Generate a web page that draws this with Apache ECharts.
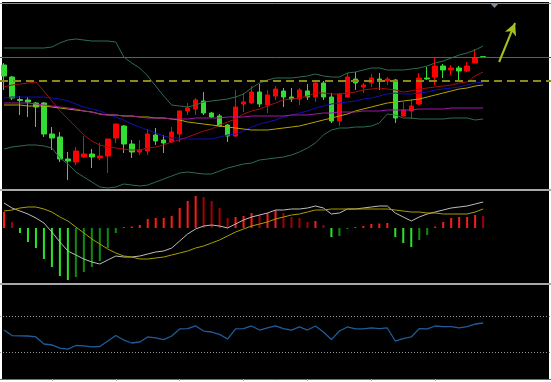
<!DOCTYPE html>
<html><head><meta charset="utf-8">
<script src="https://cdn.jsdelivr.net/npm/echarts@6/dist/echarts.min.js"></script>
<style>html,body{margin:0;padding:0;background:#fff}#c{width:551px;height:382px}</style>
</head><body><div id="c"></div>
<script>
// candles: [open, close, low, high] (price points)
const ohlc = [
[125,114,100,127],[113,92,90,114],[90.5,89.5,75,94],[90,88,73,93],[87,83,63,88],
[87,56,53,88],[56,52,40,63],[53,31,28,58],[31,29,10,38],[28,39,25,43],
[33,36,32,54],[36,33,22,41],[32,34,30,47],[34,51,17,51],[52,66,47,66],
[64,46,37,65],[46,38,32,50],[38,40,35,50],[39,56,35,61],[55,49,45,62],
[50,47,37,55],[48,58,47,63],[56,79,48,80],[79,82,75,87],[81,90,75,92],
[89,77,75,98],[77,73,72,78],[74,64,63,76],[65,54,48,66],[54,83,53,100],
[86,88,78,97],[87,98,86,104],[98,86,83,106],[85,95,77,100],[94,101,90,104],
[99,93,83,102],[93,91,88,102],[91,100,85,102],[99,93,90,106],[93,107,88,110],
[107,93,90,109],[93,69,67,97],[69,96,64,97],[93,113,92,117],[111,107,100,118],
[103,105,97,107],[107,112,103,116],[111,109,100,117],[109,111,105,113],[110,72,67,111],
[74,80,73,88],[79,84,71,90],[86,112,85,117],[112,111,110,123],[113,124,105,133],
[124,120,112,126],[120,122,115,125],[122,119,108,124],[119,124,118,128],[127,132,127,141],
[133.3,133,133,133.3]
];
const bbUpper = [142,142,142,142,142,142,143,147,150,151,150,149,149,149,148,133,127,122,114,104,94,85,84,83,85,88,89,90,91,93,96,102,107,110,112,112,112,113,114,116,114,113,113,117,118,120,122,122,120,120,120,121,122,124,127,129,132,135,137,140,144];
const bbMiddle = [92,93,93,93,93,93,92,91,89,86,83,81,79,76,73,70,66,63,60,57,54,52,52,51,51,51,51,53,55,56,59,63,66,68,70,73,75,77,79,82,84,86,87,88,89,91,92,94,96,97,96,96,97,98,100,101,102,103,105,107,108];
const bbLower = [41,43,44,45,45,44,42,32,26,18,13,8,3,2,3,6,5,4,5,8,11,14,17,18,17,16,16,19,22,24,26,27,30,31,32,33,35,38,42,47,55,60,62,62,63,63,64,67,76,75,72,72,71,71,71,71,72,72,72,70,71];
const maRed = [103,105,106,107,108,99,89,79,71,63,55,49,45,43,42,41,40,40,42,43,45,48,50,53,56,59,61,65,68,71,76,79,81,84,87,90,91,92,94,97,97,96,96,97,98,100,101,102,101,100,98,99,101,102,103,104,105,107,108,114,118];
const maYellow = [85,85,85,84,84,84,83,82,81,80,79,78,76,75,75,74,74,73,73,72,72,71,70,68,67,66,65,64,63,62,61,60,60,60,61,62,63,64,66,68,70,72,74,76,79,81,83,85,87,88,89,90,91,93,95,97,99,101,102,104,105];
const maPurple = [87,87,87,87,86,85,84,83,82,81,79,78,76,75,75,74,74,73,72,72,72,71,71,71,72,72,72,72,73,73,73,74,74,74,74,74,75,75,75,76,77,77,78,78,78,79,79,79,80,80,80,80,81,81,81,81,82,82,82,82,82];
const macdHist = [16,6,-5,-14,-20,-31,-39,-48,-52,-49,-44,-39,-33,-20,-5,1,1.5,3,9,10,10,12,20,27,32,31,27,20,10,11,12,15,13,15,18,15,11,10,6,7,3,-9,-8,-1,1,2,4,4.5,5,-9,-15,-19,-12,-7,1.5,6,10,11,11,13,12];
const macdLine = [25,20,17,14,10,5,-4,-14,-23,-27,-31,-34,-36,-32,-28,-29,-29,-28,-26,-24,-23,-20,-13,-6,-1,2,3,2,0,4,8,11,13,15,18,18,19,19,20,22,20,14,15,19,19,20,21,22,22,15,11,7,11,14,16,18,20,21,22,24,26];
const macdSignal = [17,18,20,21,21,19,16,11,7,1,-5,-11,-16,-21,-25,-28,-29,-31,-31,-30,-29,-27,-25,-23,-20,-18,-15,-12,-8,-4,-1,2,4,6,9,11,13,14,16,18,18,19,19,19,19,19,19,19,19,18,17,16,16,15,15,14,14,14,14,16,19];
const rsi = [54.4,48.3,48,47.8,46.7,38.9,37.8,34.4,33.3,37.2,36.7,35.6,36.1,42.2,48.3,43.3,40,41.1,46.7,45.6,43.8,47.8,55.6,56,58.9,53.3,52.2,49.6,44.4,55.6,56,58.9,54.4,56.7,58.9,56,54.4,57.8,54.4,58.9,52.2,43.8,53.3,57.8,55.6,55.6,56.7,56,56.7,42.2,44.9,46.7,56,55.6,58.9,58.3,58.3,56.7,58.3,61.1,62.2];
const currentPrice = 133;
const levelPrice = 109;
const rsiLevels = [70, 30];
const arrowFrom = [62, 128];
const arrowTo = [64, 167];
const slotCount = 69;
const tickStart = 6, tickEvery = 8;
const categories = Array.from({length: slotCount}, (_, i) => 'B' + (i + 1));
const lastIndex = ohlc.length - 1;

const histData = macdHist.map((v, i) => {
  const p = i > 0 ? macdHist[i - 1] : undefined;
  let c;
  if (v >= 0) c = (p === undefined || v >= p) ? '#ff1a1a' : '#a30000';
  else c = (p === undefined || v <= p) ? '#26e626' : '#0f8c0f';
  return {value: v, itemStyle: {color: c}};
});

function catAxis(grid, extra) {
  return Object.assign({
    gridIndex: grid, type: 'category', data: categories, boundaryGap: true,
    axisLabel: {show: false}, axisTick: {show: false}, splitLine: {show: false},
    axisLine: {show: true, onZero: false, lineStyle: {color: '#a8a8a8', width: 2}}
  }, extra || {});
}
function ln(name, data, color, x, y, w, z) {
  return {name, type: 'line', data, xAxisIndex: x, yAxisIndex: y, symbol: 'none',
    lineStyle: {color, width: w || 1}, z: z || 3, silent: true, animation: false};
}

const chart = echarts.init(document.getElementById('c'), null, {width: 551, height: 382});
chart.setOption({
  animation: false,
  backgroundColor: '#ffffff',
  graphic: {elements: [
    {type: 'rect', shape: {x: 2, y: 2, width: 547, height: 378}, style: {fill: '#000'}, z: -100, silent: true},
    {type: 'polygon', shape: {points: [[490, 3], [499, 3], [494.5, 8]]}, style: {fill: '#7d8a98'}, z: 10, silent: true}
  ]},
  grid: [
    {left: 0, right: 0, top: 3, height: 187},
    {left: 0, right: 0, top: 192, height: 92},
    {left: 0, right: 0, top: 289, height: 90}
  ],
  xAxis: [
    catAxis(0),
    catAxis(0, {position: 'top', axisLine: {show: true, onZero: false, lineStyle: {color: '#8c8c8c', width: 1}}}),
    catAxis(1),
    catAxis(2, {axisLine: {show: true, onZero: false, lineStyle: {color: '#6e6e6e', width: 1}},
      axisTick: {show: true, alignWithLabel: true, length: 2, lineStyle: {color: '#a0a0a0'},
        interval: (idx) => idx >= tickStart && idx <= lastIndex && (idx - tickStart) % tickEvery === 0}})
  ],
  yAxis: [
    {gridIndex: 0, min: 0, max: 187, show: false},
    {gridIndex: 1, min: -56, max: 36, show: false},
    {gridIndex: 2, min: 0, max: 100, show: false}
  ],
  series: [
    {type: 'line', data: [], xAxisIndex: 0, yAxisIndex: 0, z: 1, silent: true,
      markLine: {silent: true, symbol: 'none', animation: false, label: {show: false},
        data: [
          {yAxis: currentPrice, lineStyle: {color: '#56616c', width: 1, type: 'solid'}},
          {yAxis: levelPrice, lineStyle: {color: '#8a8a18', width: 2, type: [8, 5]}},
          [{coord: arrowFrom, symbol: 'none'},
           {coord: arrowTo, symbol: 'arrow', symbolSize: [9, 12], lineStyle: {color: '#a2c21e', width: 2, type: 'solid'}}]
        ]}},
    {type: 'candlestick', data: ohlc, xAxisIndex: 0, yAxisIndex: 0, barWidth: 5, z: 2, silent: true,
      itemStyle: {color: '#ff0000', color0: '#33dd33', borderColor: '#ff0000', borderColor0: '#33dd33', borderWidth: 1}},
    ln('BB upper', bbUpper, '#2d6e4e', 0, 0),
    ln('BB lower', bbLower, '#2d6e4e', 0, 0),
    ln('BB middle', bbMiddle, '#1010b4', 0, 0),
    ln('MA red', maRed, '#a00e0e', 0, 0),
    ln('MA yellow', maYellow, '#b4a400', 0, 0),
    ln('MA purple', maPurple, '#a21aa8', 0, 0),
    {type: 'bar', data: histData, xAxisIndex: 2, yAxisIndex: 1, barWidth: 2, silent: true, z: 2},
    ln('MACD', macdLine, '#bcbcbc', 2, 1),
    ln('Signal', macdSignal, '#a89f00', 2, 1),
    Object.assign(ln('RSI', rsi, '#1f5c9c', 3, 2, 1.3), {
      markLine: {silent: true, symbol: 'none', animation: false, label: {show: false},
        lineStyle: {color: '#9a9a9a', width: 1, type: [1, 2]},
        data: rsiLevels.map(v => ({yAxis: v}))}})
  ]
});
</script></body></html>
